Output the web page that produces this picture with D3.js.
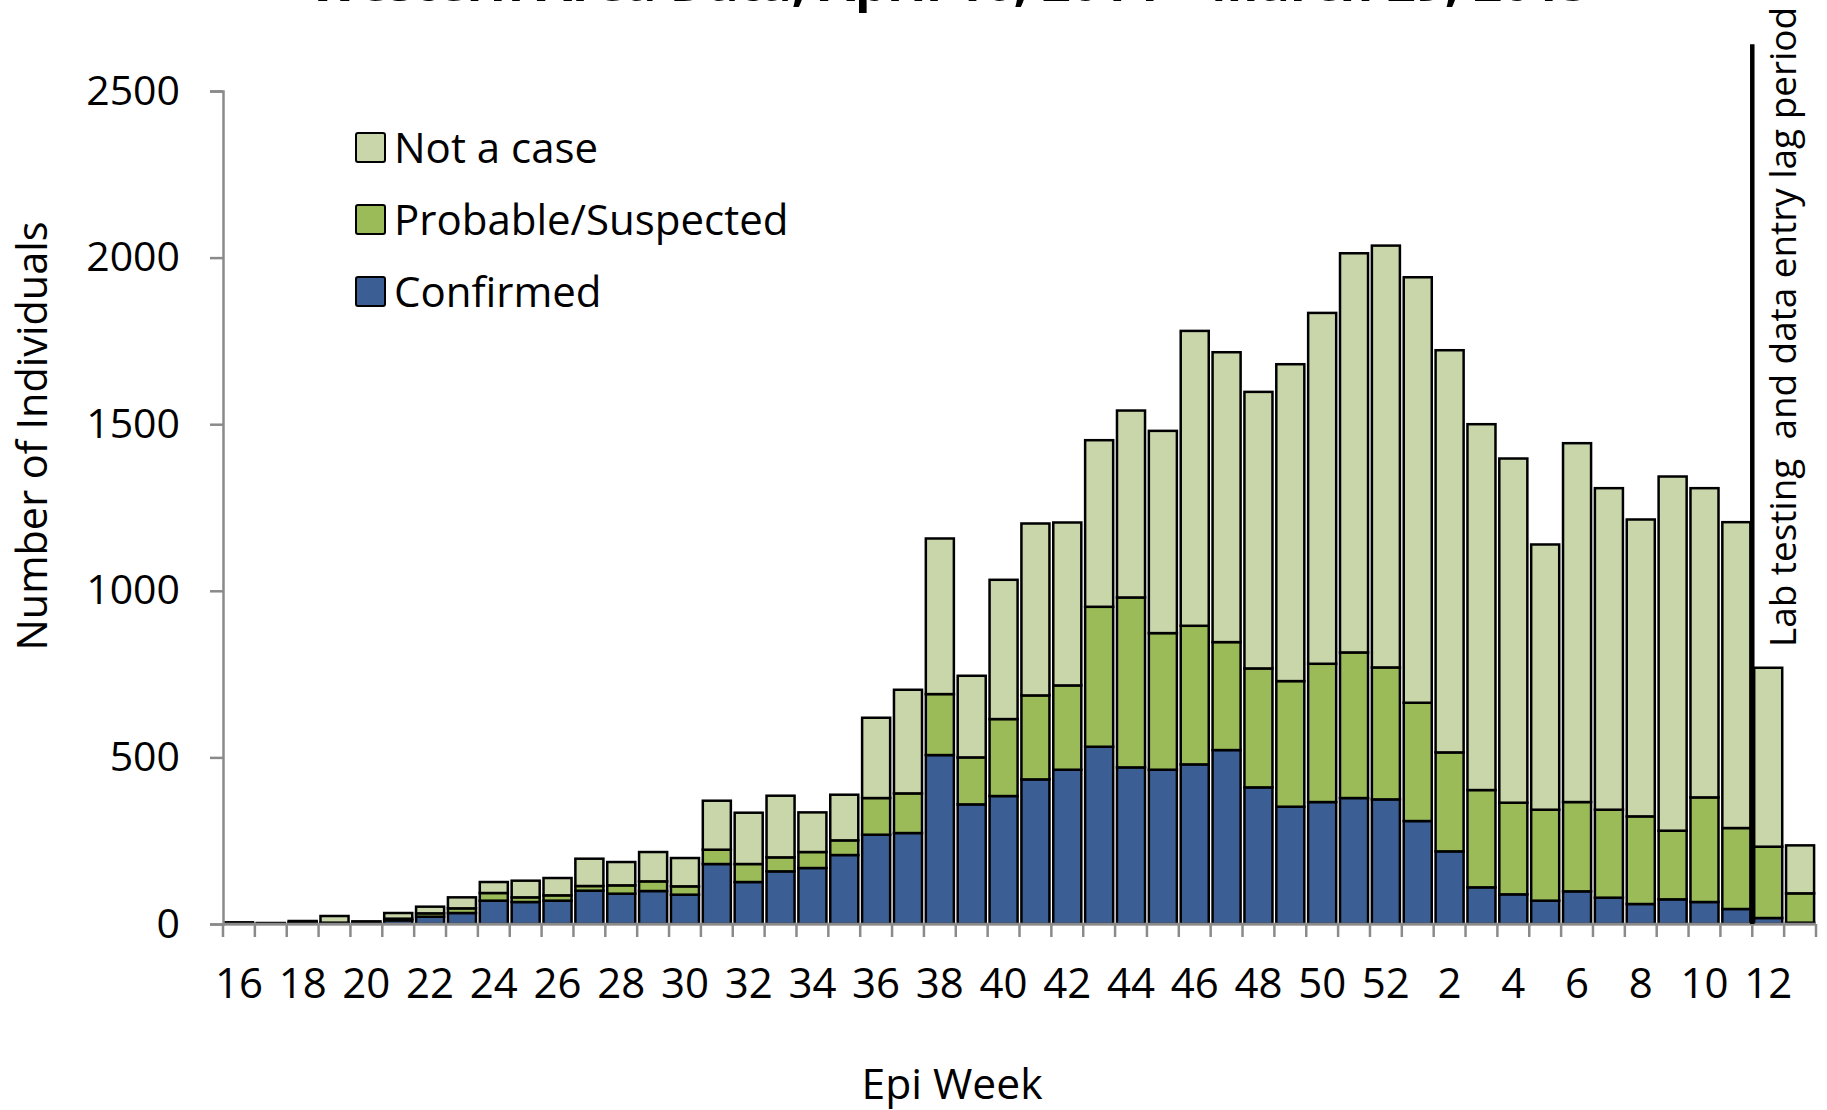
<!DOCTYPE html>
<html>
<head>
<meta charset="utf-8">
<script src="https://cdn.jsdelivr.net/npm/d3@7"></script>
<style>
  html, body { margin: 0; padding: 0; background: #fff; }
  svg { display: block; }
  text { font-family: "Open Sans", "DejaVu Sans", sans-serif; fill: #000; }
</style>
</head>
<body>
<svg id="chart" width="1827" height="1110"></svg>
<script>
// ---- data ----
const weeks = [16,17,18,19,20,21,22,23,24,25,26,27,28,29,30,31,32,33,34,35,36,37,38,39,40,41,42,43,44,45,46,47,48,49,50,51,52,1,2,3,4,5,6,7,8,9,10,11,12,13];
const confirmed = [2,1,3,2,3,11,22,33,70,66,70,100,91,99,88,180,126,158,168,207,268,273,507,359,384,434,463,532,470,463,479,522,410,352,366,378,374,309,218,110,89,70,98,79,60,74,66,45,18,4];
const probable  = [1,0,1,2,1,5,10,14,23,14,16,14,25,29,25,43,54,42,48,44,110,119,183,141,231,252,253,420,510,410,416,324,357,377,415,437,396,355,297,292,275,273,268,264,263,206,314,243,214,88];
const notACase  = [2,2,5,20,4,17,20,33,33,50,52,82,70,88,85,147,154,185,119,137,241,311,467,245,418,516,489,500,561,607,885,870,830,951,1053,1198,1266,1277,1207,1098,1033,796,1077,965,891,1063,928,918,537,144];
const seriesNames = ["Confirmed", "Probable/Suspected", "Not a case"];
const seriesKeys = ["confirmed", "probable", "notACase"];
const seriesColors = ["#3b5f95", "#9bbb59", "#c9d6aa"];
const yTicks = [0, 500, 1000, 1500, 2000, 2500];
const xTickWeeks = [16,18,20,22,24,26,28,30,32,34,36,38,40,42,44,46,48,50,52,2,4,6,8,10,12];
const lagStartWeekIndex = 48;   // week 12 (2015) begins the lag period
const lagLineTop = 2640;
const titleText = "Western Area Data, April 16, 2014 \u2013 March 29, 2015";
const yTitle = "Number of Individuals";
const xTitle = "Epi Week";
const lagText = "Lab testing\u00a0\u00a0and data entry lag period";

// ---- layout ----
const svg = d3.select("#chart");
const mLeft = 223, mRight = 1816, mTop = 91, mBottom = 924;

const idx = weeks.map((w, i) => i);
const x = d3.scaleBand().domain(idx).range([mLeft, mRight]).paddingInner(0.12).paddingOuter(0.06);
const y = d3.scaleLinear().domain([0, 2500]).range([mBottom, mTop]);

const rows = idx.map(i => ({ i, confirmed: confirmed[i], probable: probable[i], notACase: notACase[i] }));
const stack = d3.stack().keys(seriesKeys)(rows);

svg.append("rect").attr("width", 1827).attr("height", 1110).attr("fill", "#fff");

// title (clipped at top in the reference)
svg.append("text")
  .attr("x", 309).attr("y", 1)
  .attr("textLength", 1281).attr("lengthAdjust", "spacingAndGlyphs")
  .style("font-size", "48px").style("font-weight", "bold")
  .text(titleText);

// bars
svg.append("g").selectAll("g").data(stack).join("g")
  .attr("fill", (d, k) => seriesColors[k])
  .selectAll("rect").data(d => d).join("rect")
  .attr("x", d => x(d.data.i))
  .attr("width", x.bandwidth())
  .attr("y", d => y(d[1]))
  .attr("height", d => Math.max(0, y(d[0]) - y(d[1])))
  .attr("stroke", "#000").attr("stroke-width", 2.5);

// y axis
const yAxis = d3.axisLeft(y).tickValues(yTicks).tickSize(13).tickPadding(30).tickFormat(d3.format("d"));
const gy = svg.append("g").attr("transform", `translate(${mLeft},0)`).call(yAxis);
gy.select(".domain").attr("stroke", "#8a8a8a").attr("stroke-width", 2.5);
gy.selectAll(".tick line").attr("stroke", "#8a8a8a").attr("stroke-width", 2.5);
gy.selectAll(".tick text").style("font-size", "41px").style("font-family", "'Open Sans', sans-serif").attr("fill", "#000");

// x axis: line with ticks at category boundaries
const step = x.step();
const boundaries = d3.range(weeks.length + 1).map(k => mLeft + k * step);
const gx = svg.append("g");
gx.append("line").attr("x1", mLeft).attr("x2", mRight).attr("y1", mBottom).attr("y2", mBottom)
  .attr("stroke", "#8a8a8a").attr("stroke-width", 2.5);
gx.selectAll("line.tk").data(boundaries).join("line").attr("class", "tk")
  .attr("x1", d => d).attr("x2", d => d).attr("y1", mBottom).attr("y2", mBottom + 13)
  .attr("stroke", "#8a8a8a").attr("stroke-width", 2.5);
gx.selectAll("text").data(xTickWeeks).join("text")
  .attr("x", w => x(weeks.indexOf(w)) + x.bandwidth() / 2)
  .attr("y", 998)
  .attr("text-anchor", "middle")
  .style("font-size", "42px")
  .text(w => w);

// axis titles
svg.append("text")
  .attr("transform", `translate(47,436) rotate(-90)`)
  .attr("text-anchor", "middle")
  .attr("textLength", 429).attr("lengthAdjust", "spacingAndGlyphs")
  .style("font-size", "42px")
  .text(yTitle);
svg.append("text")
  .attr("x", 952).attr("y", 1099)
  .attr("text-anchor", "middle")
  .attr("textLength", 181).attr("lengthAdjust", "spacingAndGlyphs")
  .style("font-size", "42px")
  .text(xTitle);

// lag period line + label
const lagX = x(lagStartWeekIndex) - step * x.paddingInner() / 2;
svg.append("line")
  .attr("x1", lagX).attr("x2", lagX)
  .attr("y1", y(lagLineTop)).attr("y2", y(0))
  .attr("stroke", "#000").attr("stroke-width", 4.5);
svg.append("text")
  .attr("transform", `translate(1796,647) rotate(-90)`)
  .attr("textLength", 640).attr("lengthAdjust", "spacingAndGlyphs")
  .style("font-size", "36px")
  .text(lagText);

// legend (top to bottom: Not a case, Probable/Suspected, Confirmed)
const legendOrder = [2, 1, 0];
const lg = svg.append("g").selectAll("g").data(legendOrder).join("g")
  .attr("transform", (k, j) => `translate(356,${133 + j * 72})`);
lg.append("rect").attr("width", 29).attr("height", 29).attr("rx", 2)
  .attr("fill", k => seriesColors[k]).attr("stroke", "#000").attr("stroke-width", 2);
lg.append("text").attr("x", 38).attr("y", 30)
  .style("font-size", "42px")
  .text(k => seriesNames[k]);
</script>
</body>
</html>
